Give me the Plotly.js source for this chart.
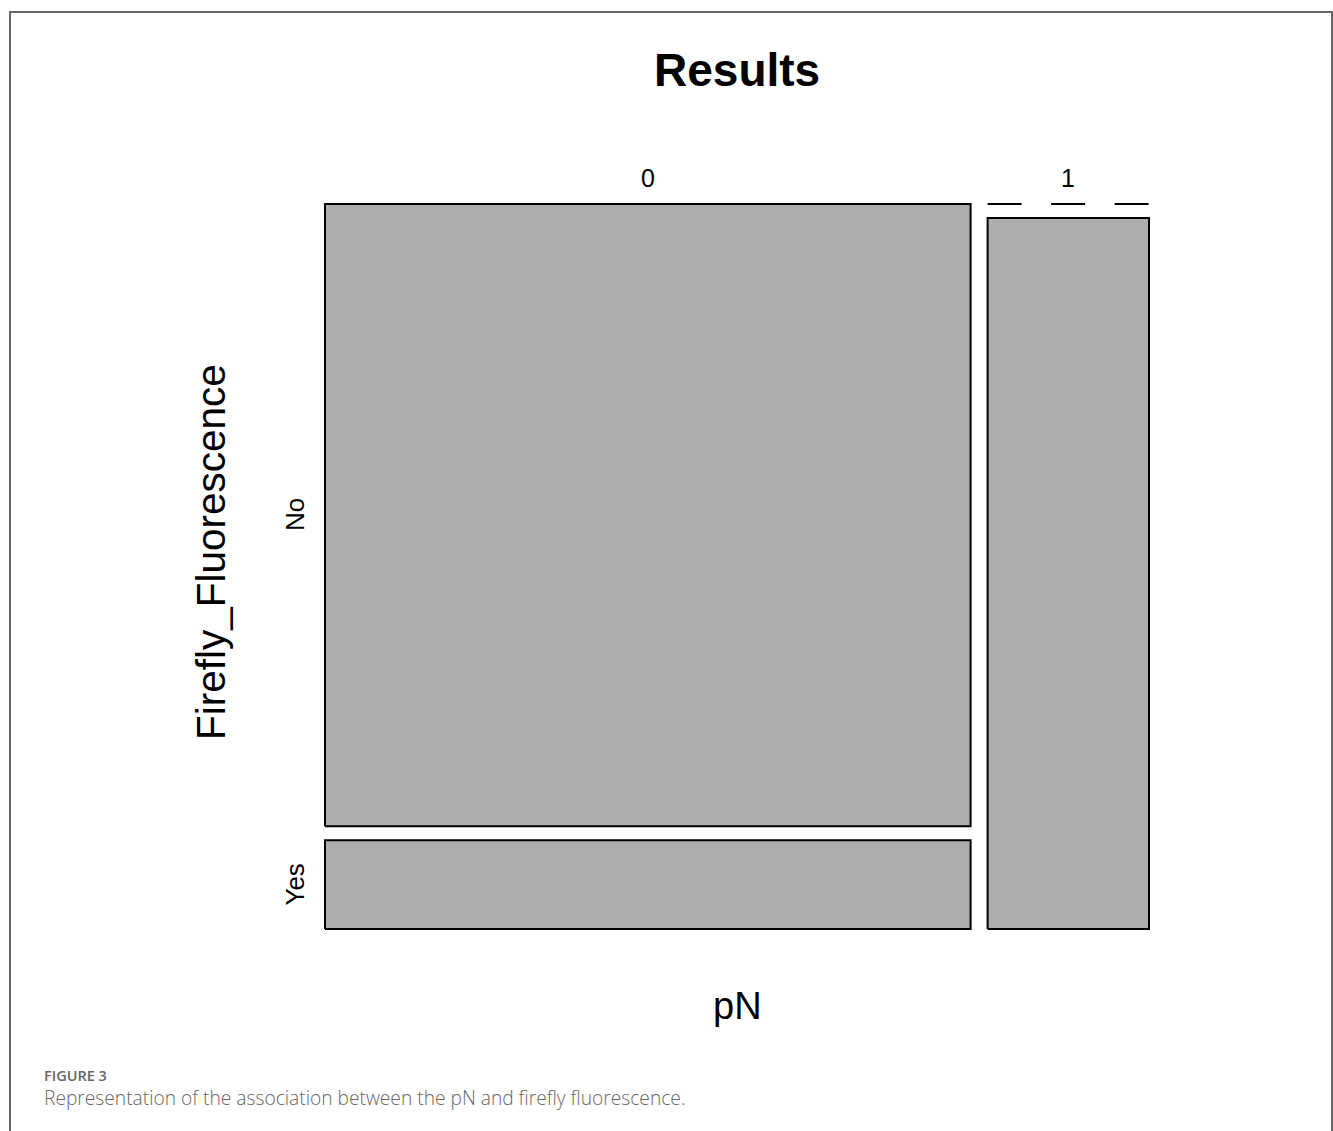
<!DOCTYPE html>
<html>
<head>
<meta charset="utf-8">
<script src="https://cdn.plot.ly/plotly-3.0.1.min.js"></script>
<style>
  html, body { margin: 0; padding: 0; background: #ffffff; }
  #chart { width: 1333px; height: 1131px; }
</style>
</head>
<body>
<div id="chart"></div>
<script>
// ---- data (counts read from the mosaic proportions) ----
const pNLevels = ['0', '1'];
const fluorLevels = ['No', 'Yes'];
const countsPN0 = [56, 8];   // No, Yes for pN = 0
const countsPN1 = [16, 0];   // No, Yes for pN = 1
const chartTitle = 'Results';
const xTitle = 'pN';
const yTitle = 'Firefly_Fluorescence';
const figLabel = 'FIGURE 3';
const figCaption = 'Representation of the association between the pN and firefly fluorescence.';

// ---- layout geometry (pixels) ----
const W = 1333, H = 1131;
const plotL = 325, plotR = 1149, plotT = 204, plotB = 929;
const PAD = 6;
const spanX = plotR - plotL, spanY = plotB - plotT;
const gapX = 17, gapY = 14;
const mL = plotL - PAD, mR = W - plotR - PAD, mT = plotT - PAD, mB = H - plotB - PAD;
const areaW = W - mL - mR, areaH = H - mT - mB;
const pxX = px => (px - mL) / areaW;
const pxY = py => (H - mB - py) / areaH;

const fill = '#adadad';
const traces = [];
const colCounts = [countsPN0, countsPN1];
const colTotals = colCounts.map(c => c.reduce((a, b) => a + b, 0));
const grand = colTotals.reduce((a, b) => a + b, 0);
const availX = spanX - gapX * (pNLevels.length - 1);
const availY = spanY - gapY * (fluorLevels.length - 1);

let x = 0;
const colCenters = [];
const rowCentersCol0 = [];
colCounts.forEach((counts, j) => {
  const w = availX * colTotals[j] / grand;
  colCenters.push(x + w / 2);
  // zero cells are drawn first (at the top edge), then the others from the top
  const order = fluorLevels.map((_, i) => i).sort((a, b) => (counts[a] === 0 ? 0 : 1) - (counts[b] === 0 ? 0 : 1));
  let yTop = spanY;
  order.forEach((i) => {
    const h = availY * counts[i] / colTotals[j];
    if (counts[i] === 0) {
      traces.push({
        type: 'scatter', mode: 'lines', x: [x, x + w], y: [yTop, yTop],
        line: { color: '#000', width: 2, dash: '34px,29.5px' },
        hoverinfo: 'skip', showlegend: false, cliponaxis: false
      });
    } else {
      const y0 = yTop - h;
      traces.push({
        type: 'scatter', mode: 'lines', fill: 'toself', fillcolor: fill,
        x: [x, x + w, x + w, x, x], y: [y0, y0, yTop, yTop, y0],
        line: { color: '#000', width: 2 },
        hoverinfo: 'skip', showlegend: false, cliponaxis: false
      });
      if (j === 0) rowCentersCol0[i] = yTop - h / 2;
    }
    yTop -= h + gapY;
  });
  x += w + gapX;
});

const font = 'Liberation Sans, Arial, Helvetica, sans-serif';
const annotations = [];
annotations.push({ text: '<b>' + chartTitle + '</b>', xref: 'paper', yref: 'paper', x: pxX(737), y: pxY(70),
  xanchor: 'center', yanchor: 'middle', showarrow: false, font: { family: font, size: 46, color: '#000' } });
pNLevels.forEach((lab, j) => {
  annotations.push({ text: lab, xref: 'paper', yref: 'paper', x: pxX(plotL + colCenters[j]), y: pxY(178),
    xanchor: 'center', yanchor: 'middle', showarrow: false, font: { family: font, size: 25, color: '#000' } });
});
fluorLevels.forEach((lab, i) => {
  annotations.push({ text: lab, xref: 'paper', yref: 'paper', x: pxX(295), y: pxY(plotB - rowCentersCol0[i]),
    xanchor: 'center', yanchor: 'middle', textangle: -90, showarrow: false, font: { family: font, size: 26, color: '#000' } });
});
annotations.push({ text: yTitle, xref: 'paper', yref: 'paper', x: pxX(211), y: pxY(552),
  xanchor: 'center', yanchor: 'middle', textangle: -90, showarrow: false, font: { family: font, size: 40.5, color: '#000' } });
annotations.push({ text: xTitle, xref: 'paper', yref: 'paper', x: pxX(737), y: pxY(1006),
  xanchor: 'center', yanchor: 'middle', showarrow: false, font: { family: font, size: 38, color: '#000' } });
annotations.push({ text: figLabel, xref: 'paper', yref: 'paper', x: pxX(42), y: pxY(1075),
  xanchor: 'left', yanchor: 'middle', showarrow: false, font: { family: 'Open Sans, sans-serif', size: 14.5, weight: 600, color: '#666' } });
annotations.push({ text: figCaption, xref: 'paper', yref: 'paper', x: pxX(42), y: pxY(1097),
  xanchor: 'left', yanchor: 'middle', showarrow: false, font: { family: 'Open Sans, sans-serif', size: 19.2, weight: 300, color: '#666' } });

const layout = {
  width: W, height: H,
  margin: { l: mL, r: mR, t: mT, b: mB, pad: 0 },
  paper_bgcolor: '#fff', plot_bgcolor: '#fff',
  xaxis: { range: [-PAD, spanX + PAD], visible: false, fixedrange: true },
  yaxis: { range: [-PAD, spanY + PAD], visible: false, fixedrange: true },
  showlegend: false,
  annotations: annotations,
  shapes: [{ type: 'rect', xref: 'paper', yref: 'paper', x0: pxX(10), x1: pxX(1332), y0: pxY(1145), y1: pxY(12),
    line: { color: '#666', width: 2 }, fillcolor: 'rgba(0,0,0,0)', layer: 'below' }]
};

Plotly.newPlot('chart', traces, layout, { staticPlot: true, displayModeBar: false });
</script>
</body>
</html>
